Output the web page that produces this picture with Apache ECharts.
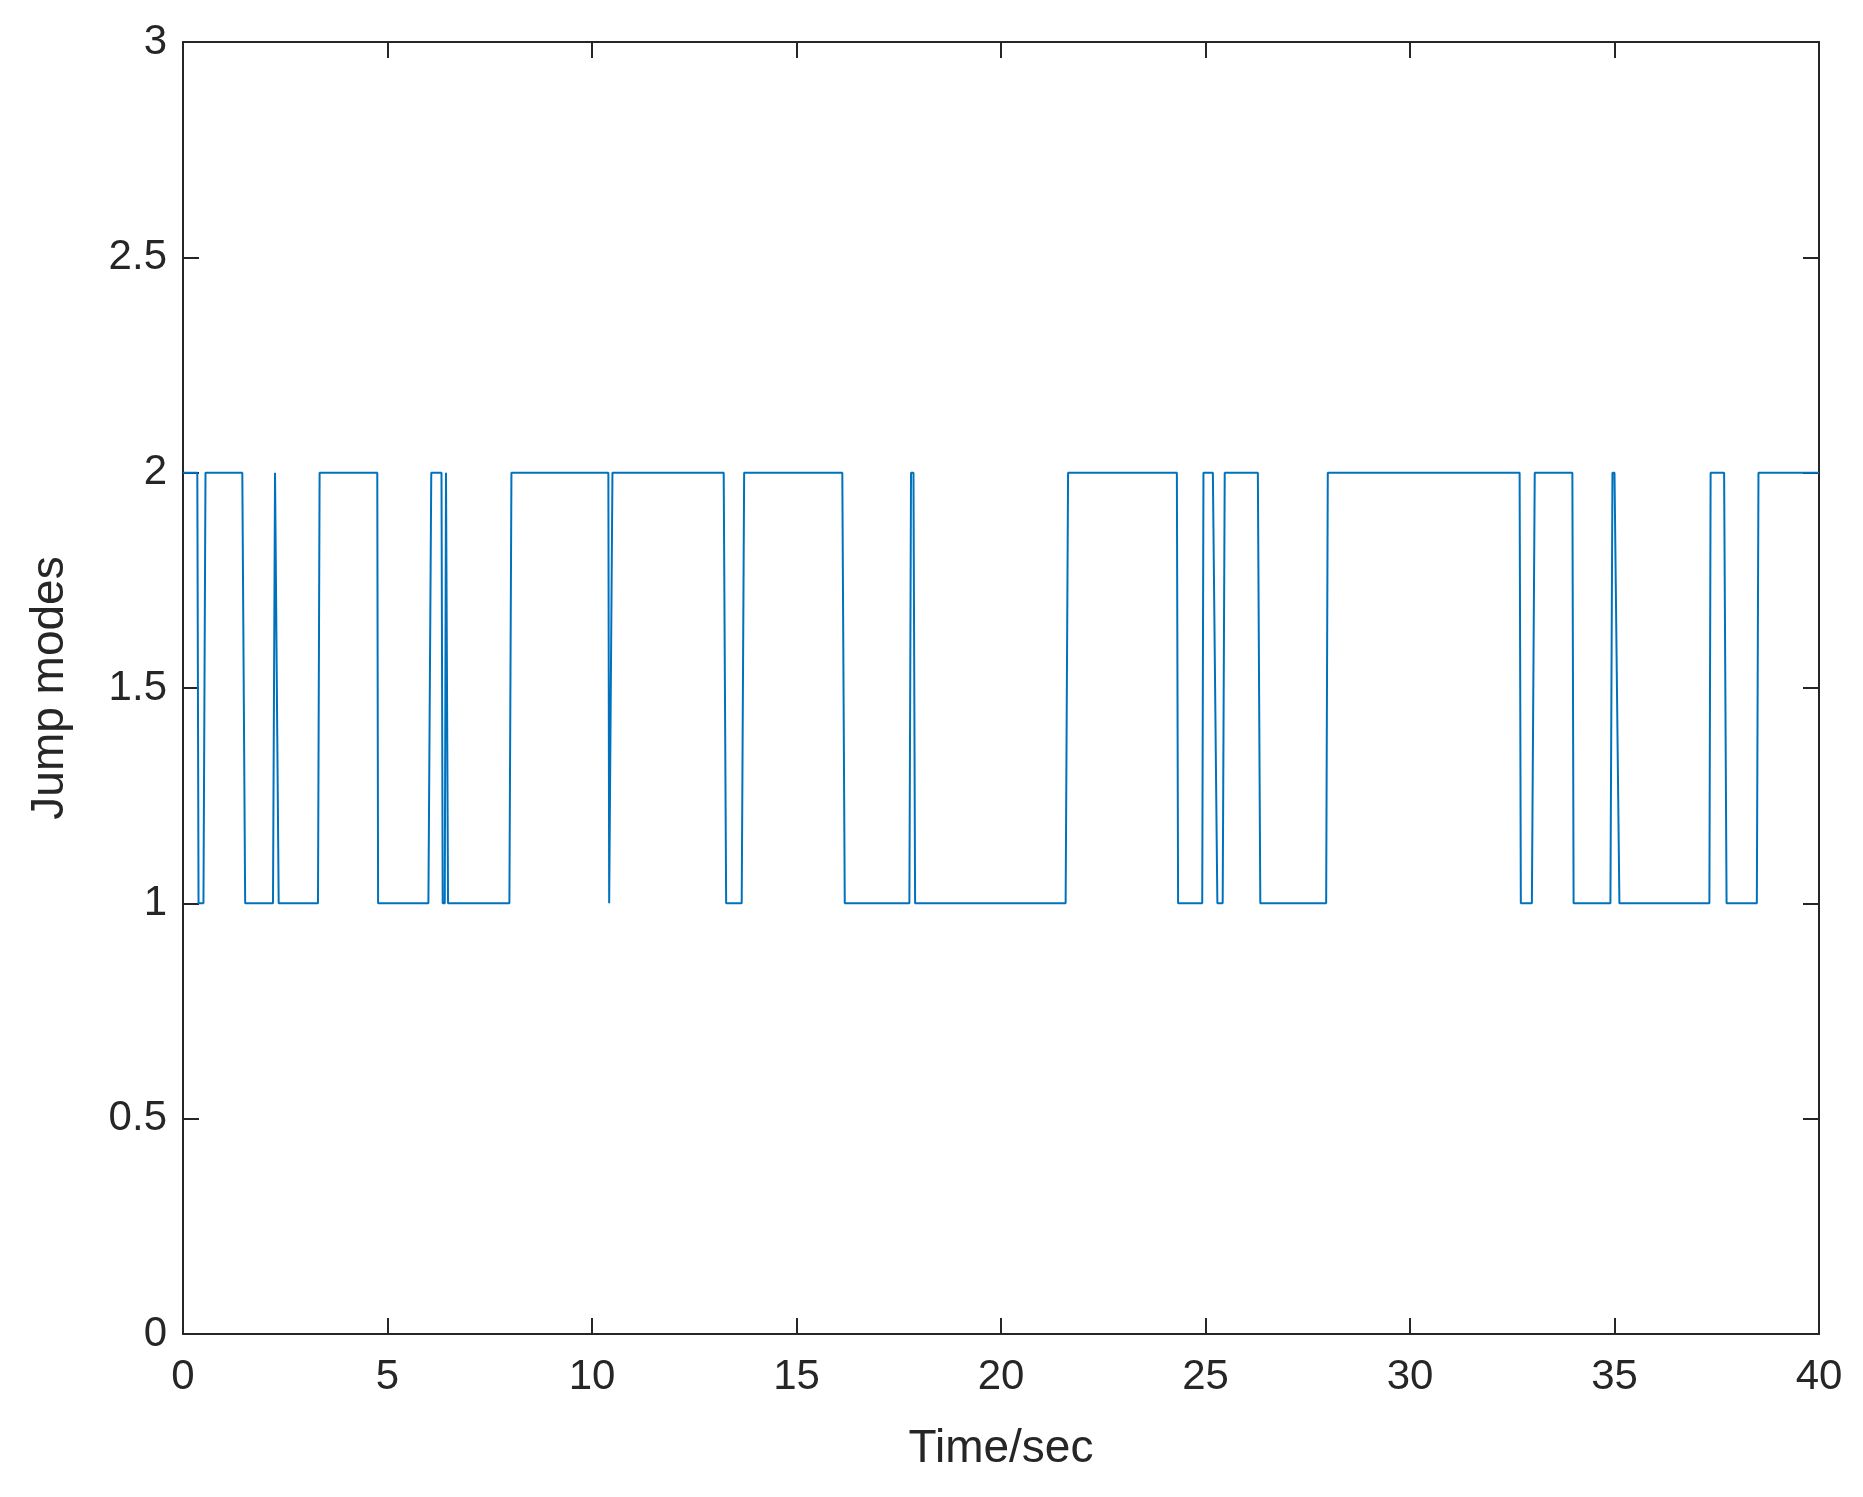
<!DOCTYPE html>
<html>
<head>
<meta charset="utf-8">
<script src="https://cdn.jsdelivr.net/npm/echarts@6/dist/echarts.min.js"></script>
<style>html,body{margin:0;background:#fff}#chart{width:1863px;height:1497px}</style>
</head>
<body>
<div id="chart"></div>
<script>
// Время (с) и режим в каждой точке ломаной
const times = [0, 0.35, 0.38, 0.5, 0.55, 1.45, 1.52, 2.2, 2.25, 2.28, 2.34, 3.3, 3.34, 4.75, 4.77,
  6.0, 6.07, 6.32, 6.35, 6.4, 6.43, 6.45, 6.48, 7.98, 8.03, 10.4, 10.42, 10.45, 10.5,
  13.22, 13.28, 13.66, 13.72, 16.12, 16.18, 17.76, 17.8, 17.86, 17.9, 21.58, 21.64,
  24.3, 24.33, 24.92, 24.95, 25.18, 25.29, 25.42, 25.47, 26.28, 26.34, 27.95, 27.99,
  32.68, 32.71, 32.98, 33.05, 33.97, 34.0, 34.9, 34.95, 35.0, 35.12, 37.32, 37.35,
  37.68, 37.74, 38.48, 38.52, 40];
const modes = [2, 2, 1, 1, 2, 2, 1, 1, 2, 2, 1, 1, 2, 2, 1,
  1, 2, 2, 1, 1, 2, 2, 1, 1, 2, 2, 1, 1, 2,
  2, 1, 1, 2, 2, 1, 1, 2, 2, 1, 1, 2,
  2, 1, 1, 2, 2, 1, 1, 2, 2, 1, 1, 2,
  2, 1, 1, 2, 2, 1, 1, 2, 2, 1, 1, 2,
  2, 1, 1, 2, 2];

const chart = echarts.init(document.getElementById('chart'));
const font = 'Liberation Sans';
const axisCommon = {
  axisLine: { show: true, onZero: false, lineStyle: { color: '#262626', width: 2 } },
  axisTick: { show: true, inside: true, length: 16, lineStyle: { color: '#262626', width: 2 } },
  splitLine: { show: false }
};
const mirror = {
  axisLine: { show: true, onZero: false, lineStyle: { color: '#262626', width: 2 } },
  axisTick: { show: true, inside: true, length: 16, lineStyle: { color: '#262626', width: 2 } },
  axisLabel: { show: false }, splitLine: { show: false }
};
chart.setOption({
  animation: false,
  grid: { left: 183, right: 44, top: 42, bottom: 163 },
  xAxis: [
    Object.assign({ type: 'value', min: 0, max: 40, interval: 5, position: 'bottom',
      name: 'Time/sec', nameLocation: 'middle', nameGap: 92,
      nameTextStyle: { fontFamily: font, fontSize: 46, color: '#262626' },
      axisLabel: { fontFamily: font, fontSize: 42, color: '#262626', margin: 22 } }, axisCommon),
    Object.assign({ type: 'value', min: 0, max: 40, interval: 5, position: 'top' }, mirror)
  ],
  yAxis: [
    Object.assign({ type: 'value', min: 0, max: 3, interval: 0.5, position: 'left',
      name: 'Jump modes', nameLocation: 'middle', nameGap: 110,
      nameTextStyle: { fontFamily: font, fontSize: 46, color: '#262626' },
      axisLabel: { fontFamily: font, fontSize: 42, color: '#262626', margin: 16 } }, axisCommon),
    Object.assign({ type: 'value', min: 0, max: 3, interval: 0.5, position: 'right' }, mirror)
  ],
  series: [{
    type: 'line',
    data: times.map((t, i) => [t, modes[i]]),
    showSymbol: false,
    lineStyle: { color: '#0072BD', width: 2 }
  }]
});
</script>
</body>
</html>
